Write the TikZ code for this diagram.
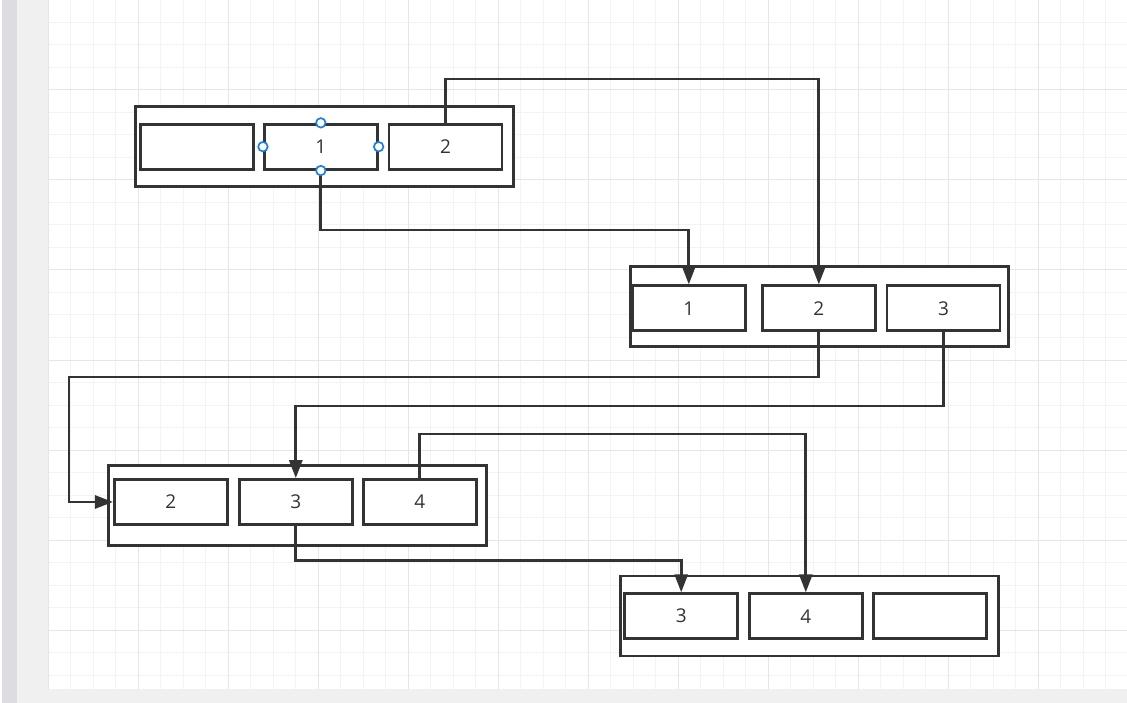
\documentclass[tikz,border=0pt]{standalone}
\usepackage{fontspec}
\setmainfont{Open Sans}
\usetikzlibrary{arrows.meta}
\definecolor{ink}{HTML}{333333}
\definecolor{gridminor}{HTML}{F3F3F3}
\definecolor{gridmajor}{HTML}{E6E6E6}
\definecolor{sidegrey}{HTML}{DCDCE1}
\definecolor{panelgrey}{HTML}{F0F0F0}
\definecolor{handleblue}{HTML}{1A80E6}
\begin{document}
\begin{tikzpicture}[x=1pt,y=-1pt,
  cell/.style={draw=ink,line width=2.7pt,fill=white,minimum width=113pt,minimum height=45pt,inner sep=0pt,font=\fontsize{19}{21}\selectfont,text=ink},
  outerbox/.style={draw=ink,line width=2.7pt,fill=white,inner sep=0pt,minimum width=378pt,minimum height=80pt},
  conn/.style={draw=ink,line width=2.8pt},
  arr/.style={conn,-{Triangle[length=18pt,width=13pt]}},
  handle/.style={circle,draw=handleblue,line width=1.7pt,fill=white,minimum size=9.5pt,inner sep=0pt}]
\useasboundingbox (0,0) rectangle (1127,703);
% background
\fill[white] (0,0) rectangle (1127,703);
\fill[sidegrey] (2,0) rectangle (17,703);
\fill[panelgrey] (17,0) rectangle (48,703);
\fill[panelgrey] (48,689) rectangle (1127,703);
% grid
\foreach \i in {0,...,47} \draw[gridminor,line width=1pt] ({48+22.5*\i},0) -- ({48+22.5*\i},689);
\foreach \j in {1,...,30} \draw[gridminor,line width=1pt] (48,{22.5*\j}) -- (1127,{22.5*\j});
\foreach \i in {0,...,11} \draw[gridmajor,line width=1pt] ({48+90*\i},0) -- ({48+90*\i},689);
\foreach \j in {1,...,7} \draw[gridmajor,line width=1pt] (48,{90*\j}) -- (1127,{90*\j});
% outer boxes
\node[outerbox] (A) at (324.5,146.8) {};
\node[outerbox] (B) at (819.7,306.3) {};
\node[outerbox] (C) at (297.7,505.3) {};
\node[outerbox] (D) at (809.7,616) {};
% cells
\node[cell] (a1) at (196.8,146.7) {};
\node[cell] (a2) at (320.8,146.7) {1};
\node[cell] (a3) at (445.5,146.7) {2};
\node[cell] (b1) at (688.8,308.3) {1};
\node[cell] (b2) at (818.8,308.3) {2};
\node[cell] (b3) at (943.5,308.3) {3};
\node[cell] (c1) at (170.8,502) {2};
\node[cell] (c2) at (295.8,502) {3};
\node[cell] (c3) at (419.8,502) {4};
\node[cell] (d1) at (681.2,616.2) {3};
\node[cell] (d2) at (805.8,616.2) {4};
\node[cell] (d3) at (930,616.2) {};
% bend levels
\coordinate (y79) at (0,79);
\coordinate (y230) at (0,230);
\coordinate (y377) at (0,377);
\coordinate (y406) at (0,406);
\coordinate (y434) at (0,434);
\coordinate (y560) at (0,560.5);
\coordinate (x69) at (69,0);
% connectors
\draw[arr] (a3.north) -- (a3.north |- y79) -| (b2.north);
\draw[arr] (a2.south) -- (a2.south |- y230) -| (b1.north);
\draw[arr] (b2.south) -- (b2.south |- y377) -| (x69 |- c1.west) -- (c1.west);
\draw[arr] (b3.south) -- (b3.south |- y406) -| (c2.north);
\draw[arr] (c3.north) -- (c3.north |- y434) -| (d2.north);
\draw[arr] (c2.south) -- (c2.south |- y560) -| (d1.north);
% selection handles
\node[handle] (h1) at (a2.north) {};
\node[handle] (h2) at (a2.south) {};
\node[handle] (h3) at (a2.west) {};
\node[handle] (h4) at (a2.east) {};
\end{tikzpicture}
\end{document}
